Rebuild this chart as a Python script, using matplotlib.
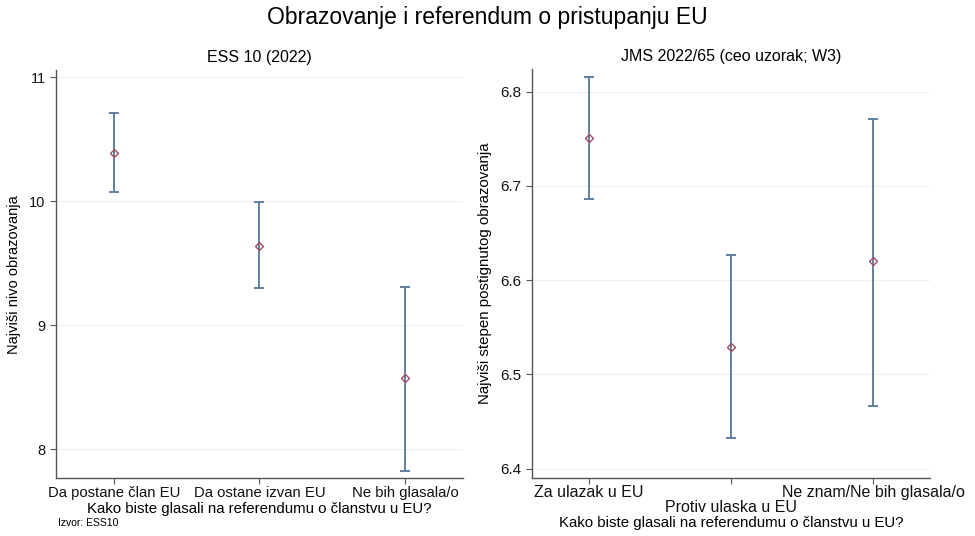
import matplotlib.pyplot as plt

plt.rcParams['font.family'] = ['Liberation Sans', 'DejaVu Sans']

# ESS 10 (2022)
ess_labels = ['Da postane član EU', 'Da ostane izvan EU', 'Ne bih glasala/o']
ess_mean = [10.39, 9.64, 8.57]
ess_low = [10.07, 9.30, 7.82]
ess_high = [10.71, 9.99, 9.31]

# JMS 2022/65
jms_labels = ['Za ulazak u EU', 'Protiv ulaska u EU', 'Ne znam/Ne bih glasala/o']
jms_mean = [6.751, 6.529, 6.620]
jms_low = [6.686, 6.433, 6.467]
jms_high = [6.816, 6.627, 6.771]

bar_col = '#55779a'
pt_col = '#a04d5e'
axis_col = '#555555'

fig = plt.figure(figsize=(9.75, 5.36), dpi=100)
fig.text(0.5, 0.968, 'Obrazovanje i referendum o pristupanju EU', ha='center', va='center', fontsize=16.5)

ax1 = fig.add_axes([0.0574, 0.108, 0.4175, 0.761])
ax2 = fig.add_axes([0.5456, 0.108, 0.4084, 0.763])


def draw(ax, mean, low, high):
    x = [1, 2, 3]
    yerr = [[m - l for m, l in zip(mean, low)], [h - m for m, h in zip(mean, high)]]
    ax.errorbar(x, mean, yerr=yerr, fmt='none', ecolor=bar_col, elinewidth=1.3,
                capsize=3.6, capthick=1.3, zorder=2)
    ax.plot(x, mean, linestyle='none', marker='D', markersize=4.5, markerfacecolor='none',
            markeredgecolor=pt_col, markeredgewidth=1.0, zorder=3)
    ax.set_xlim(0.6, 3.4)
    ax.grid(axis='y', color='#efefef', linewidth=0.8)
    ax.set_axisbelow(True)
    for s in ['top', 'right']:
        ax.spines[s].set_visible(False)
    for s in ['left', 'bottom']:
        ax.spines[s].set_color(axis_col)
        ax.spines[s].set_linewidth(1.0)
    ax.tick_params(colors=axis_col, labelcolor='#111111', labelsize=10.5, length=4, width=0.8)


draw(ax1, ess_mean, ess_low, ess_high)
ax1.set_ylim(7.766, 11.056)
ax1.set_yticks([8, 9, 10, 11])
ax1.set_yticklabels(['8', '9', '10', '11'])
ax1.set_xticks([1, 2, 3])
ax1.set_xticklabels(ess_labels, fontsize=10.7)
ax1.tick_params(axis='x', pad=2)
ax1.set_title('ESS 10 (2022)', fontsize=11.5, pad=6)
ax1.set_ylabel('Najviši nivo obrazovanja', fontsize=10.5, labelpad=6)
ax1.set_xlabel('Kako biste glasali na referendumu o članstvu u EU?', fontsize=10.8, labelpad=1)
fig.text(0.0595, 0.025, 'Izvor: ESS10', fontsize=7.5, ha='left', va='center')

draw(ax2, jms_mean, jms_low, jms_high)
ax2.set_ylim(6.390, 6.824)
ax2.set_yticks([6.4, 6.5, 6.6, 6.7, 6.8])
ax2.set_yticklabels(['6.4', '6.5', '6.6', '6.7', '6.8'], fontsize=11)
ax2.set_xticks([1, 2, 3])
ax2.set_xticklabels(['', '', ''])
for i, lab in enumerate(jms_labels):
    off = 0.036 if i != 1 else 0.072
    ax2.text(i + 1, -off, lab, transform=ax2.get_xaxis_transform(), ha='center', va='center',
             fontsize=11.5, color='#111111')
ax2.set_title('JMS 2022/65 (ceo uzorak; W3)', fontsize=11.5, pad=6)
ax2.set_ylabel('Najviši stepen postignutog obrazovanja', fontsize=10.8, labelpad=6)
fig.text(0.75, 0.024, 'Kako biste glasali na referendumu o članstvu u EU?', fontsize=10.8,
         ha='center', va='center')

fig.savefig('out.png', dpi=100)
